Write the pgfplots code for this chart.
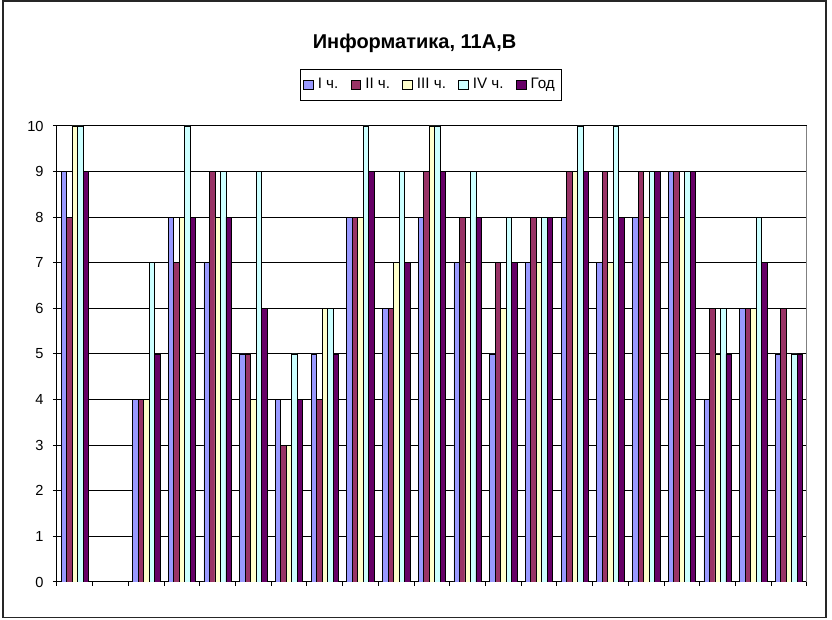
\documentclass[border=0pt]{standalone}
\usepackage{fontspec}
\setmainfont{Liberation Sans}
\usepackage{pgfplots}
\usepackage{pgfplotstable}
\pgfplotsset{compat=1.18}
\definecolor{s1}{HTML}{9999FF}
\definecolor{s2}{HTML}{993366}
\definecolor{s3}{HTML}{FFFFCC}
\definecolor{s4}{HTML}{CCFFFF}
\definecolor{s5}{HTML}{660066}
\pgfplotsset{sqleg/.style={legend image code/.code={\draw[fill=#1, draw=black, line width=0.45pt] (0pt,-2.4pt) rectangle (4.8pt,2.4pt);}}}
\pgfplotstableread{
x  a   b   c   d   e
0  9   8   10  10  9
1  nan nan nan nan nan
2  4   4   4   7   5
3  8   7   8   10  8
4  7   9   8   9   8
5  5   5   4   9   6
6  4   3   3   5   4
7  5   4   6   6   5
8  8   8   8   10  9
9  6   6   7   9   7
10 8   9   10  10  9
11 7   8   7   9   8
12 5   7   6   8   7
13 7   8   7   8   8
14 8   9   9   10  9
15 7   9   7   10  8
16 8   9   8   9   9
17 9   9   8   9   9
18 4   6   5   6   5
19 6   6   6   8   7
20 5   6   4   5   5
}\data
\begin{document}
\begin{tikzpicture}
\useasboundingbox (0,0) rectangle (416pt,310pt);
\draw[line width=0.9pt, black!85] (1.6pt,1.2pt) rectangle (413pt,309.3pt);
\begin{axis}[
  at={(28.5pt,19pt)}, anchor=south west,
  scale only axis, width=375pt, height=228pt,
  xmin=-0.5, xmax=20.5, ymin=0, ymax=10,
  xtick={-0.5,0.5,...,20.5}, xticklabels={},
  ytick={0,1,...,10},
  ymajorgrids, grid style={black, line width=0.5pt},
  axis x line*=bottom, axis y line*=left,
  tick align=outside, major tick length=2pt,
  tick style={black, line width=0.5pt},
  axis line style={black, line width=0.5pt},
  /pgf/number format/assume math mode=true,
  yticklabel style={font=\fontsize{7.3}{8}\selectfont, xshift=-1.2pt},
  every axis plot/.append style={draw=black, line width=0.45pt},
  title={\textbf{Информатика, 11А,В}},
  title style={at={(0.4767,1.155)}, anchor=center, font=\fontsize{10}{12}\selectfont},
  legend columns=5,
  legend style={at={(0.4987,1.09)}, anchor=center, draw=black, line width=0.5pt,
    font=\fontsize{7.6}{9}\selectfont, inner xsep=1.5pt, inner ysep=2.2pt,
    /tikz/every even column/.append style={column sep=4.2pt}},
]
\addplot[ybar, bar width=2.75pt, bar shift=-5.5pt, fill=s1, sqleg=s1] table[x=x,y=a] {\data};
\addplot[ybar, bar width=2.75pt, bar shift=-2.75pt, fill=s2, sqleg=s2] table[x=x,y=b] {\data};
\addplot[ybar, bar width=2.75pt, bar shift=0pt, fill=s3, sqleg=s3] table[x=x,y=c] {\data};
\addplot[ybar, bar width=2.75pt, bar shift=2.75pt, fill=s4, sqleg=s4] table[x=x,y=d] {\data};
\addplot[ybar, bar width=2.75pt, bar shift=5.5pt, fill=s5, sqleg=s5] table[x=x,y=e] {\data};
\legend{I ч.,II ч.,III ч.,IV ч.,Год}
\draw[gray, line width=0.5pt] (rel axis cs:1,0) -- (rel axis cs:1,1);
\end{axis}
\end{tikzpicture}
\end{document}
